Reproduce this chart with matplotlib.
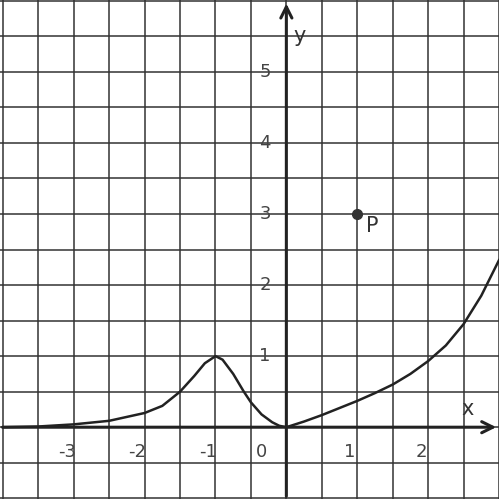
import matplotlib.pyplot as plt
import numpy as np

curve_x = [-4.0,-3.5,-3.0,-2.5,-2.0,-1.75,-1.5,-1.3,-1.15,-1.0,-0.9,-0.75,-0.6,-0.5,-0.35,-0.2,-0.1,0.0,0.25,0.5,0.75,1.0,1.25,1.5,1.75,2.0,2.25,2.5,2.75,3.0]
curve_y = [0.0,0.01,0.04,0.09,0.2,0.3,0.5,0.72,0.9,1.0,0.95,0.75,0.5,0.35,0.18,0.07,0.02,0.0,0.08,0.17,0.27,0.37,0.48,0.6,0.75,0.93,1.15,1.45,1.85,2.35]
xticks = [-3,-2,-1,0,1,2]
yticks = [1,2,3,4,5]
P = (1, 3)

fig = plt.figure(figsize=(4.99,4.99), dpi=100)
ax = fig.add_axes([0,0,1,1])
ax.set_xlim(-4.04, 3.0)
ax.set_ylim(-1.01, 6.01)
for g in np.arange(-4, 3.01, 0.5):
    ax.axvline(g, color='#333333', lw=1.1, zorder=1)
for g in np.arange(-1, 6.01, 0.5):
    ax.axhline(g, color='#333333', lw=1.1, zorder=1)
ax.annotate('', xy=(3.0, 0), xytext=(-4.04, 0), arrowprops=dict(arrowstyle='->', lw=2.2, color='#222222', mutation_scale=20), zorder=3)
ax.annotate('', xy=(0, 6.0), xytext=(0, -1.01), arrowprops=dict(arrowstyle='->', lw=2.2, color='#222222', mutation_scale=20), zorder=3)
ax.plot(curve_x, curve_y, color='#222222', lw=1.8, zorder=4)
ax.plot(*P, 'o', color='#333333', ms=7, zorder=5)
ax.text(P[0]+0.12, P[1]-0.25, 'P', fontsize=15, color='#333333')
for t in xticks:
    ax.text(t-0.1 if t else -0.35, -0.35, str(t), fontsize=13, color='#444444', ha='center', va='center')
for t in yticks:
    ax.text(-0.3, t, str(t), fontsize=13, color='#444444', ha='center', va='center')
ax.text(0.18, 5.5, 'y', fontsize=15, color='#333333', ha='center', va='center')
ax.text(2.55, 0.25, 'x', fontsize=15, color='#333333', ha='center', va='center')
ax.axis('off')
fig.savefig('out.png', dpi=100)
